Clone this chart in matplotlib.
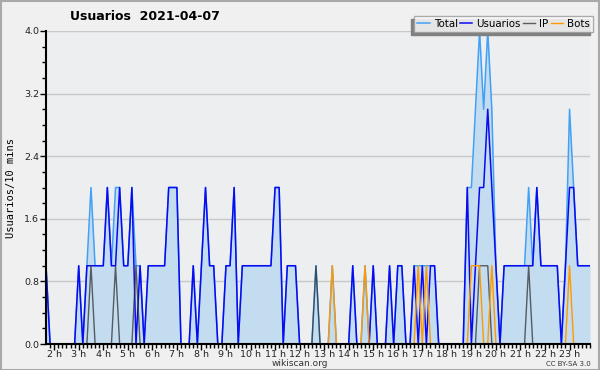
import matplotlib
matplotlib.use("Agg")
import matplotlib.pyplot as plt
import numpy as np
from matplotlib.patches import Rectangle

# 10-minute samples from 01:40 to 23:50, one row per hour
usuarios = [1, 0,
            0, 0, 0, 0, 0, 0,
            1, 0, 1, 1, 1, 1,
            1, 2, 1, 1, 2, 1,
            1, 2, 0, 1, 0, 1,
            1, 1, 1, 1, 2, 2,
            2, 0, 0, 0, 1, 0,
            1, 2, 1, 1, 0, 0,
            1, 1, 2, 0, 1, 1,
            1, 1, 1, 1, 1, 1,
            2, 2, 0, 1, 1, 1,
            0, 0, 0, 0, 0, 0,
            0, 0, 0, 0, 0, 0,
            0, 1, 0, 0, 0, 0,
            1, 0, 0, 0, 1, 0,
            1, 1, 0, 0, 1, 0,
            1, 0, 1, 1, 0, 0,
            0, 0, 0, 0, 0, 2,
            0, 1, 2, 2, 3, 2,
            1, 0, 1, 1, 1, 1,
            1, 1, 1, 1, 2, 1,
            1, 1, 1, 1, 0, 1,
            2, 2, 1, 1, 1, 1]
ip = [0, 0,
      0, 0, 0, 0, 0, 0,
      0, 0, 0, 1, 0, 0,
      0, 0, 0, 1, 0, 0,
      0, 0, 1, 0, 0, 0,
      0, 0, 0, 0, 0, 0,
      0, 0, 0, 0, 0, 0,
      0, 0, 0, 0, 0, 0,
      0, 0, 0, 0, 0, 0,
      0, 0, 0, 0, 0, 0,
      0, 0, 0, 0, 0, 0,
      0, 0, 0, 0, 1, 0,
      0, 0, 0, 0, 0, 0,
      0, 0, 0, 0, 0, 0,
      0, 0, 0, 0, 0, 0,
      0, 0, 0, 0, 0, 0,
      0, 0, 0, 0, 0, 0,
      0, 0, 0, 0, 0, 0,
      0, 0, 1, 1, 1, 0,
      0, 0, 0, 0, 0, 0,
      0, 0, 1, 0, 0, 0,
      0, 0, 0, 0, 0, 0,
      0, 0, 0, 0, 0, 0]
bots = [0, 0,
        0, 0, 0, 0, 0, 0,
        0, 0, 0, 0, 0, 0,
        0, 0, 0, 0, 0, 0,
        0, 0, 0, 0, 0, 0,
        0, 0, 0, 0, 0, 0,
        0, 0, 0, 0, 0, 0,
        0, 0, 0, 0, 0, 0,
        0, 0, 0, 0, 0, 0,
        0, 0, 0, 0, 0, 0,
        0, 0, 0, 0, 0, 0,
        0, 0, 0, 0, 0, 0,
        0, 0, 1, 0, 0, 0,
        0, 0, 0, 0, 1, 0,
        0, 0, 0, 0, 0, 0,
        0, 0, 0, 0, 0, 1,
        0, 1, 0, 0, 0, 0,
        0, 0, 0, 0, 0, 0,
        1, 1, 1, 0, 0, 1,
        0, 0, 0, 0, 0, 0,
        0, 0, 0, 0, 0, 0,
        0, 0, 0, 0, 0, 0,
        1, 0, 0, 0, 0, 0]
total = [1, 0,
         0, 0, 0, 0, 0, 0,
         1, 0, 1, 2, 1, 1,
         1, 2, 1, 2, 2, 1,
         1, 2, 1, 1, 0, 1,
         1, 1, 1, 1, 2, 2,
         2, 0, 0, 0, 1, 0,
         1, 2, 1, 1, 0, 0,
         1, 1, 2, 0, 1, 1,
         1, 1, 1, 1, 1, 1,
         2, 2, 0, 1, 1, 1,
         0, 0, 0, 0, 1, 0,
         0, 0, 1, 0, 0, 0,
         0, 1, 0, 0, 1, 0,
         1, 0, 0, 0, 1, 0,
         1, 1, 0, 0, 1, 1,
         1, 1, 1, 1, 0, 0,
         0, 0, 0, 0, 0, 2,
         2, 3, 4, 3, 4, 3,
         1, 0, 1, 1, 1, 1,
         1, 1, 2, 1, 2, 1,
         1, 1, 1, 1, 0, 1,
         3, 2, 1, 1, 1, 1]
start_hour = 1 + 40 / 60.0
hour_labels = ['%d h' % h for h in range(2, 24)]

t = start_hour + np.arange(len(total)) / 6.0

fig = plt.figure(figsize=(6, 3.7), dpi=100, facecolor='#f0f0f0')
fig.patches.append(Rectangle((0.001, 0.001), 0.997, 0.997, transform=fig.transFigure,
                             fill=False, edgecolor='#a8a8a8', linewidth=1.5))
ax = fig.add_axes([46 / 600, 26 / 370, 544 / 600, 313 / 370])
ax.set_facecolor('#edeef0')

ax.fill_between(t, total, color='#c4dcf0', linewidth=0, zorder=1)
ax.plot(t, total, color='#42a0f5', lw=1.1, label='Total', zorder=3)
ax.plot(t, usuarios, color='#0a0af0', lw=1.1, label='Usuarios', zorder=4)
ax.plot(t, ip, color='#303030', lw=1.0, alpha=0.75, label='IP', zorder=5)
ax.plot(t, bots, color='#ff9900', lw=1.0, label='Bots', zorder=5)

ax.set_xlim(t[0], t[-1])
ax.set_ylim(0, 4.0)
ax.set_yticks(np.arange(0, 4.01, 0.8))
ax.set_yticklabels(['%.1f' % v for v in np.arange(0, 4.01, 0.8)])
ax.set_yticks(np.arange(0, 4.01, 0.2), minor=True)
ax.set_xticks(range(2, 24))
ax.set_xticklabels(hour_labels)
ax.set_xticks(np.arange(11, 144) / 6.0, minor=True)
ax.grid(axis='y', which='major', color='#c8c8c8', lw=1.0)
ax.set_axisbelow(True)
for s in ['top', 'right']:
    ax.spines[s].set_visible(False)
for s in ['left', 'bottom']:
    ax.spines[s].set_color('black')
    ax.spines[s].set_linewidth(1.5)
    ax.spines[s].set_zorder(6)
ax.tick_params(axis='both', which='major', length=4, width=1, labelsize=6.8, pad=1, colors='black',
               labelcolor='#222222')
ax.tick_params(axis='both', which='minor', length=3, width=1)
ax.tick_params(axis='x', which='major', length=4, pad=0)

ax.set_ylabel('Usuarios/10 mins', family='DejaVu Sans Mono', fontsize=7.5, labelpad=6)
fig.text(145 / 600, 1 - 17 / 370, 'Usuarios  2021-04-07', ha='center', va='center',
         fontsize=9, fontweight='bold')
fig.text(0.5, 1 - 363 / 370, 'wikiscan.org', ha='center', va='center', fontsize=6.5, color='#333333')
fig.text(591 / 600, 1 - 364 / 370, 'CC BY-SA 3.0', ha='right', va='center', fontsize=5, color='#333333')

leg = fig.legend(loc='upper right', bbox_to_anchor=(593 / 600, 1 - 16 / 370), ncol=4,
                 fontsize=7.4, frameon=True, fancybox=False, handlelength=1.2, handletextpad=0.4,
                 columnspacing=0.2, borderpad=0.3, borderaxespad=0)
leg.get_frame().set_edgecolor('#999999')
leg.get_frame().set_linewidth(1)
leg.set_zorder(10)

fig.canvas.draw()
bb = leg.get_window_extent().transformed(fig.transFigure.inverted())
fig.patches.append(Rectangle((bb.x0 - 3 / 600, bb.y0 - 3 / 370), bb.width, bb.height,
                             transform=fig.transFigure, color='#808080', zorder=9))

fig.savefig('out.png', dpi=100, facecolor=fig.get_facecolor())
